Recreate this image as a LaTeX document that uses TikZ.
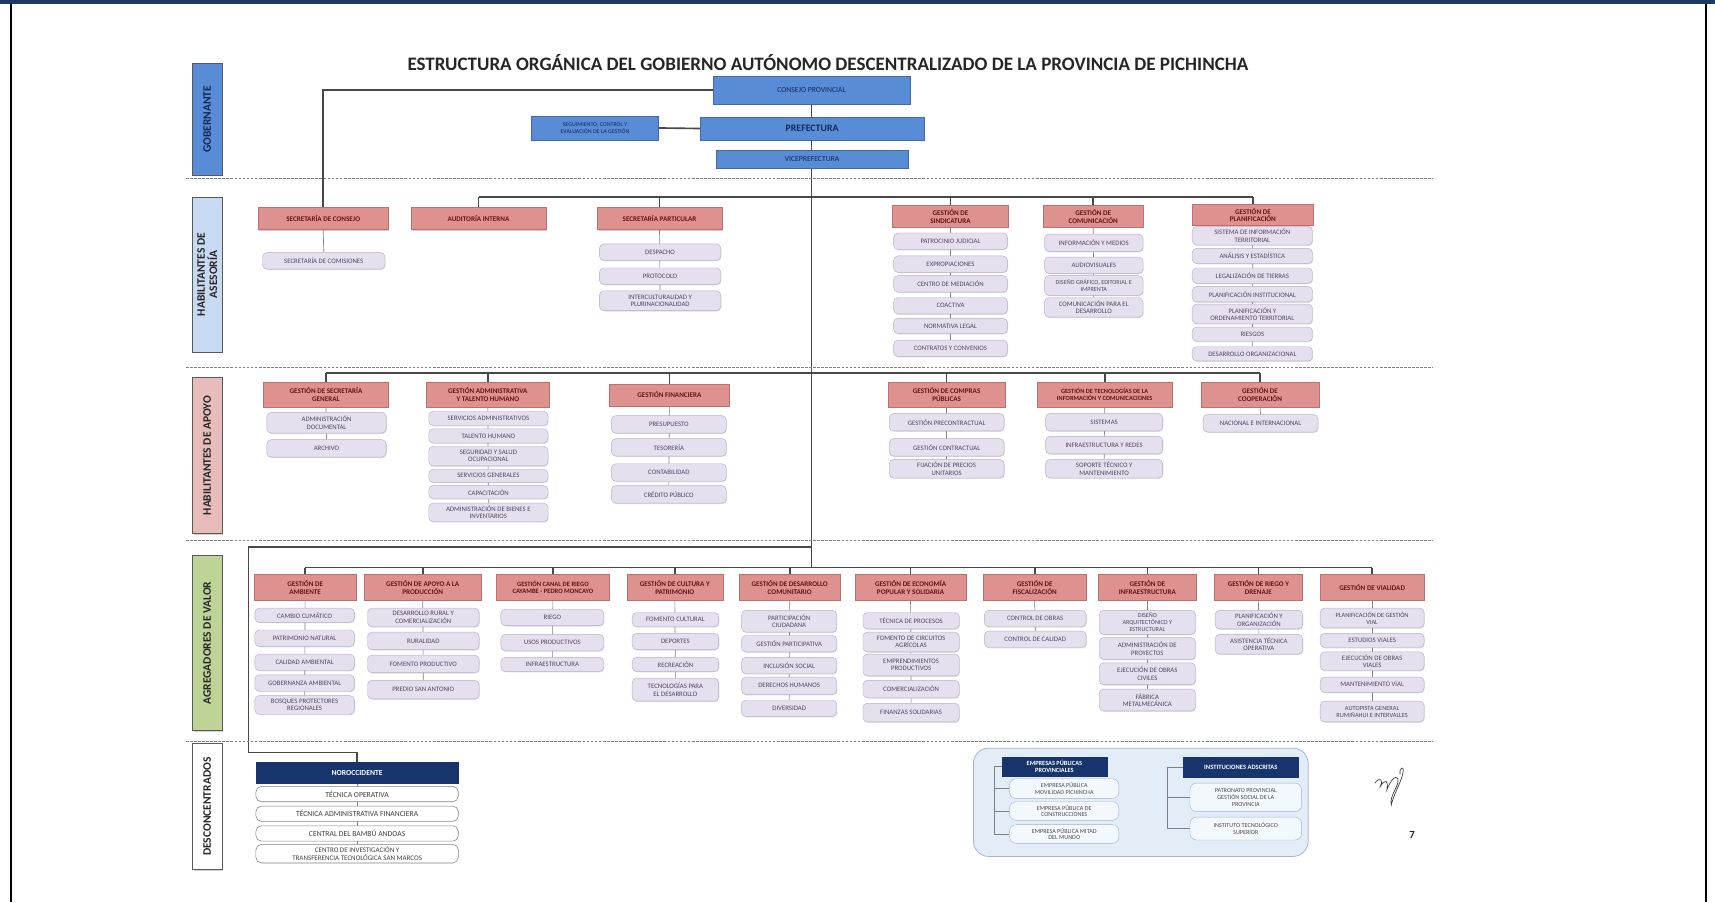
\documentclass[tikz,border=0pt]{standalone}
\usepackage{fontspec}
\setmainfont{Carlito}
\usetikzlibrary{backgrounds,shadows}
\definecolor{hdrcol}{RGB}{221,146,143}
\definecolor{hdrbrd}{RGB}{190,110,108}
\definecolor{hdrtxt}{RGB}{100,20,20}
\definecolor{subcol}{RGB}{230,223,237}
\definecolor{subbrd}{RGB}{185,175,198}
\definecolor{subtxt}{RGB}{80,70,100}
\definecolor{blucol}{RGB}{88,140,214}
\definecolor{blutxt}{RGB}{20,40,90}
\definecolor{navycol}{RGB}{23,52,108}
\definecolor{frm}{RGB}{31,56,100}
\definecolor{asecol}{RGB}{200,218,242}
\definecolor{apocol}{RGB}{232,188,186}
\definecolor{agrcol}{RGB}{190,212,150}
\definecolor{linecol}{RGB}{72,72,72}
\definecolor{pale}{RGB}{226,237,247}
\definecolor{palebrd}{RGB}{160,180,200}
\newcommand\obox[7]{\node[#1, minimum width={(#5)-(#3)}, minimum height={(#6)-(#4)}] (#2) at ({((#3)+(#5))/2},{((#4)+(#6))/2}) {#7};}
\newcommand\fsz[2]{\fontsize{#1}{#2}\selectfont}
\tikzset{
  hdr/.style={rectangle, fill=hdrcol, draw=hdrbrd, line width=0.4pt, text=hdrtxt, align=center,
    font=\fsz{6.5}{7.1}\bfseries, inner sep=0pt,
    drop shadow={shadow xshift=0.7pt, shadow yshift=-0.9pt, opacity=0.35}},
  subbox/.style={rectangle, rounded corners=4pt, fill=subcol, draw=subbrd, line width=0.4pt, text=subtxt,
    align=center, font=\fsz{6.2}{6.7}, inner sep=0pt,
    drop shadow={shadow xshift=0.6pt, shadow yshift=-0.8pt, opacity=0.25}},
  wsub/.style={rectangle, rounded corners=5pt, fill=white, draw=gray, line width=0.5pt, text=black!75,
    align=center, font=\fsz{7}{7.3}, inner sep=0pt},
  psub/.style={rectangle, rounded corners=6pt, fill=white!60!pale, draw=palebrd, line width=0.4pt, text=black!70,
    align=center, font=\fsz{5.6}{6.2}, inner sep=0pt},
  blu/.style={rectangle, fill=blucol, draw=blucol!75!black, line width=0.4pt, text=blutxt, align=center,
    font=\fsz{7}{7.6}, inner sep=0pt,
    drop shadow={shadow xshift=0.7pt, shadow yshift=-0.9pt, opacity=0.3}},
  navy/.style={rectangle, fill=navycol, draw=navycol, text=white, align=center,
    font=\fsz{7}{7.6}\bfseries, inner sep=0pt},
  lab/.style={rectangle, rotate=90, draw=gray!70!black, line width=0.6pt, align=center, inner sep=0pt,
    font=\fsz{10.5}{11}\bfseries, text=black!85,
    drop shadow={shadow xshift=1pt, shadow yshift=-1pt, opacity=0.35}},
  main/.style={draw=linecol, line width=1.5pt},
  thin/.style={draw=gray, line width=0.6pt},
  sep/.style={draw=gray, line width=0.8pt, dash pattern=on 2.5pt off 1.2pt},
}
\begin{document}
\begin{tikzpicture}[x=1pt,y=-1pt]
\useasboundingbox (0,0) rectangle (1568,825);
\begin{pgfonlayer}{background}
\fill[white] (0,0) rectangle (1568,825);
\end{pgfonlayer}
% frame
\fill[frm] (0,0) rectangle (1568,3.5);
\draw[black, line width=2pt] (10,3.5) -- (10,825);
\draw[black, line width=2pt] (1560,3.5) -- (1560,825);

% title
\node[font=\fsz{17.4}{19}\bfseries, text=black!85] (title) at (757,57)
  {ESTRUCTURA ORGÁNICA DEL GOBIERNO AUTÓNOMO DESCENTRALIZADO DE LA PROVINCIA DE PICHINCHA};

% separators
\draw[sep] (170,163) -- (1310,163);
\draw[sep] (170,336) -- (1310,336);
\draw[sep] (170,494) -- (1310,494);
\draw[sep] (170,678) -- (1310,678);

% section labels
\node[lab, fill=blucol, minimum width=102, minimum height=27, text=blutxt] (lgob) at (189.5,109) {GOBERNANTE};
\node[lab, fill=asecol, minimum width=142, minimum height=27] (lase) at (189.5,251) {HABILITANTES DE\\ASESORÍA};
\node[lab, fill=apocol, minimum width=143, minimum height=27] (lapo) at (189.5,416.5) {HABILITANTES DE APOYO};
\node[lab, fill=agrcol, minimum width=160, minimum height=27] (lagr) at (189.5,588) {AGREGADORES DE VALOR};
\node[lab, fill=white, minimum width=115, minimum height=27] (ldes) at (189.5,737.5) {DESCONCENTRADOS};

% ===== GOBERNANTE
\obox{blu}{cons}{652}{70}{832}{95}{CONSEJO PROVINCIAL}
\obox{blu, font=\fsz{9}{10}\bfseries}{pref}{640}{107}{845}{128}{PREFECTURA}
\obox{blu, font=\fsz{5.4}{6}}{segc}{486}{106}{602}{128}{SEGUIMIENTO, CONTROL Y\\EVALUACIÓN DE LA GESTIÓN}
\obox{blu}{vice}{655}{137}{830}{154}{VICEPREFECTURA}

% ===== ASESORIA
\obox{hdr}{sc}{236}{189}{355}{210}{SECRETARÍA DE CONSEJO}
\obox{subbox}{sc1}{240}{231}{352}{246}{SECRETARÍA DE COMISIONES}
\obox{hdr}{ai}{376}{189}{499}{210}{AUDITORÍA INTERNA}
\obox{hdr}{sp}{546}{189}{660}{210}{SECRETARÍA PARTICULAR}
\obox{subbox}{sp1}{548}{223}{659}{238}{DESPACHO}
\obox{subbox}{sp2}{548}{245}{659}{260}{PROTOCOLO}
\obox{subbox}{sp3}{548}{266}{659}{284}{INTERCULTURALIDAD Y\\PLURINACIONALIDAD}
\obox{hdr}{gs}{816}{188}{922}{208}{GESTIÓN DE\\SINDICATURA}
\obox{subbox}{gs1}{817}{213}{921}{228}{PATROCINIO JUDICIAL}
\obox{subbox}{gs2}{817}{234}{921}{249}{EXPROPIACIONES}
\obox{subbox}{gs3}{817}{252}{921}{267}{CENTRO DE MEDIACIÓN}
\obox{subbox}{gs4}{817}{272}{921}{287}{COACTIVA}
\obox{subbox}{gs5}{817}{291}{921}{305}{NORMATIVA LEGAL}
\obox{subbox}{gs6}{817}{311}{921}{326}{CONTRATOS Y CONVENIOS}
\obox{hdr}{gc}{954}{188}{1045}{208}{GESTIÓN DE\\COMUNICACIÓN}
\obox{subbox}{gc1}{955}{214}{1045}{230}{INFORMACIÓN Y MEDIOS}
\obox{subbox}{gc2}{955}{235}{1045}{250}{AUDIOVISUALES}
\obox{subbox, font=\fsz{5.6}{6.2}}{gc3}{955}{252}{1045}{270}{DISEÑO GRÁFICO, EDITORIAL E\\IMPRENTA}
\obox{subbox}{gc4}{955}{272}{1045}{290}{COMUNICACIÓN PARA EL\\DESARROLLO}
\obox{hdr}{gp}{1090}{187}{1201}{206}{GESTIÓN DE\\PLANIFICACIÓN}
\obox{subbox}{gp1}{1090}{207}{1200}{224}{SISTEMA DE INFORMACIÓN\\TERRITORIAL}
\obox{subbox}{gp2}{1090}{227}{1200}{241}{ANÁLISIS Y ESTADÍSTICA}
\obox{subbox}{gp3}{1090}{245}{1200}{259}{LEGALIZACIÓN DE TIERRAS}
\obox{subbox}{gp4}{1090}{262}{1200}{276}{PLANIFICACIÓN INSTITUCIONAL}
\obox{subbox}{gp5}{1090}{278}{1200}{296}{PLANIFICACIÓN Y\\ORDENAMIENTO TERRITORIAL}
\obox{subbox}{gp6}{1090}{299}{1200}{312}{RIESGOS}
\obox{subbox}{gp7}{1090}{317}{1200}{330}{DESARROLLO ORGANIZACIONAL}

% ===== APOYO
\obox{hdr}{ag}{241}{349}{355}{372}{GESTIÓN DE SECRETARÍA\\GENERAL}
\obox{subbox}{ag1}{244}{377}{353}{396}{ADMINISTRACIÓN\\DOCUMENTAL}
\obox{subbox}{ag2}{244}{402}{353}{418}{ARCHIVO}
\obox{hdr}{at}{390}{349}{502}{372}{GESTIÓN ADMINISTRATIVA\\Y TALENTO HUMANO}
\obox{subbox}{at1}{392}{376}{501}{389}{SERVICIOS ADMINISTRATIVOS}
\obox{subbox}{at2}{392}{392}{501}{405}{TALENTO HUMANO}
\obox{subbox}{at3}{392}{408}{501}{426}{SEGURIDAD Y SALUD\\OCUPACIONAL}
\obox{subbox}{at4}{392}{429}{501}{441}{SERVICIOS GENERALES}
\obox{subbox}{at5}{392}{444}{501}{456}{CAPACITACIÓN}
\obox{subbox}{at6}{392}{460}{501}{477}{ADMINISTRACIÓN DE BIENES E\\INVENTARIOS}
\obox{hdr}{af}{557}{351}{667}{371}{GESTIÓN FINANCIERA}
\obox{subbox}{af1}{559}{380}{664}{396}{PRESUPUESTO}
\obox{subbox}{af2}{559}{401}{664}{417}{TESORERÍA}
\obox{subbox}{af3}{559}{424}{664}{440}{CONTABILIDAD}
\obox{subbox}{af4}{559}{444}{664}{460}{CRÉDITO PÚBLICO}
\obox{hdr}{acp}{812}{349}{919}{372}{GESTIÓN DE COMPRAS\\PÚBLICAS}
\obox{subbox}{acp1}{813}{378}{918}{394}{GESTIÓN PRECONTRACTUAL}
\obox{subbox}{acp2}{813}{401}{918}{417}{GESTIÓN CONTRACTUAL}
\obox{subbox}{acp3}{813}{420}{918}{437}{FIJACIÓN DE PRECIOS\\UNITARIOS}
\obox{hdr, font=\fsz{5.8}{6.5}\bfseries}{ati}{948}{349}{1072}{372}{GESTIÓN DE TECNOLOGÍAS DE LA\\INFORMACIÓN Y COMUNICACIONES}
\obox{subbox}{ati1}{956}{378}{1063}{394}{SISTEMAS}
\obox{subbox}{ati2}{956}{399}{1063}{415}{INFRAESTRUCTURA Y REDES}
\obox{subbox}{ati3}{956}{420}{1063}{437}{SOPORTE TÉCNICO Y\\MANTENIMIENTO}
\obox{hdr}{aco}{1098}{349}{1206}{372}{GESTIÓN DE\\COOPERACIÓN}
\obox{subbox}{aco1}{1100}{379}{1205}{395}{NACIONAL E INTERNACIONAL}

% ===== AGREGADORES
\obox{hdr}{v1}{232}{525}{326}{549}{GESTIÓN DE\\AMBIENTE}
\obox{subbox}{v1a}{233}{556}{324}{569}{CAMBIO CLIMÁTICO}
\obox{subbox}{v1b}{233}{576}{324}{591}{PATRIMONIO NATURAL}
\obox{subbox}{v1c}{233}{598}{324}{613}{CALIDAD AMBIENTAL}
\obox{subbox}{v1d}{233}{617}{324}{632}{GOBERNANZA AMBIENTAL}
\obox{subbox}{v1e}{233}{636}{324}{653}{BOSQUES PROTECTORES\\REGIONALES}
\obox{hdr}{v2}{333}{525}{440}{549}{GESTIÓN DE APOYO A LA\\PRODUCCIÓN}
\obox{subbox}{v2a}{336}{556}{438}{573}{DESARROLLO RURAL Y\\COMERCIALIZACIÓN}
\obox{subbox}{v2b}{336}{578}{438}{594}{RURALIDAD}
\obox{subbox}{v2c}{336}{599}{438}{615}{FOMENTO PRODUCTIVO}
\obox{subbox}{v2d}{336}{622}{438}{639}{PREDIO SAN ANTONIO}
\obox{hdr, font=\fsz{6}{6.8}\bfseries}{v3}{454}{525}{557}{549}{GESTIÓN CANAL DE RIEGO\\CAYAMBE - PEDRO MONCAYO}
\obox{subbox}{v3a}{458}{557}{552}{572}{RIEGO}
\obox{subbox}{v3b}{458}{580}{552}{595}{USOS PRODUCTIVOS}
\obox{subbox}{v3c}{458}{601}{552}{614}{INFRAESTRUCTURA}
\obox{hdr}{v4}{573}{525}{661}{549}{GESTIÓN DE CULTURA Y\\PATRIMONIO}
\obox{subbox}{v4a}{578}{560}{657}{573}{FOMENTO CULTURAL}
\obox{subbox}{v4b}{578}{579}{657}{594}{DEPORTES}
\obox{subbox}{v4c}{578}{601}{657}{614}{RECREACIÓN}
\obox{subbox}{v4d}{578}{620}{657}{641}{TECNOLOGÍAS PARA\\EL DESARROLLO}
\obox{hdr}{v5}{676}{525}{768}{549}{GESTIÓN DE DESARROLLO\\COMUNITARIO}
\obox{subbox}{v5a}{678}{558}{765}{578}{PARTICIPACIÓN\\CIUDADANA}
\obox{subbox}{v5b}{678}{581}{765}{596}{GESTIÓN PARTICIPATIVA}
\obox{subbox}{v5c}{678}{601}{765}{616}{INCLUSIÓN SOCIAL}
\obox{subbox}{v5d}{678}{619}{765}{635}{DERECHOS HUMANOS}
\obox{subbox}{v5e}{678}{640}{765}{655}{DIVERSIDAD}
\obox{hdr}{v6}{782}{525}{883}{549}{GESTIÓN DE ECONOMÍA\\POPULAR Y SOLIDARIA}
\obox{subbox}{v6a}{789}{560}{877}{575}{TÉCNICA DE PROCESOS}
\obox{subbox}{v6b}{789}{578}{877}{596}{FOMENTO DE CIRCUITOS\\AGRÍCOLAS}
\obox{subbox}{v6c}{789}{598}{877}{618}{EMPRENDIMIENTOS\\PRODUCTIVOS}
\obox{subbox}{v6d}{789}{622}{877}{638}{COMERCIALIZACIÓN}
\obox{subbox}{v6e}{789}{643}{877}{660}{FINANZAS SOLIDARIAS}
\obox{hdr}{v7}{899}{525}{993}{549}{GESTIÓN DE\\FISCALIZACIÓN}
\obox{subbox}{v7a}{900}{558}{993}{573}{CONTROL DE OBRAS}
\obox{subbox}{v7b}{900}{577}{993}{592}{CONTROL DE CALIDAD}
\obox{hdr}{v8}{1004}{525}{1094}{549}{GESTIÓN DE\\INFRAESTRUCTURA}
\obox{subbox, font=\fsz{5.6}{6.2}}{v8a}{1005}{558}{1093}{580}{DISEÑO\\ARQUITECTÓNICO Y\\ESTRUCTURAL}
\obox{subbox}{v8b}{1005}{583}{1093}{603}{ADMINISTRACIÓN DE\\PROYECTOS}
\obox{subbox}{v8c}{1005}{606}{1093}{626}{EJECUCIÓN DE OBRAS\\CIVILES}
\obox{subbox}{v8d}{1005}{630}{1093}{650}{FÁBRICA\\METALMECÁNICA}
\obox{hdr}{v9}{1110}{525}{1191}{549}{GESTIÓN DE RIEGO Y\\DRENAJE}
\obox{subbox}{v9a}{1111}{558}{1191}{575}{PLANIFICACIÓN Y\\ORGANIZACIÓN}
\obox{subbox}{v9b}{1111}{580}{1191}{598}{ASISTENCIA TÉCNICA\\OPERATIVA}
\obox{hdr}{v10}{1207}{525}{1302}{549}{GESTIÓN DE VIALIDAD}
\obox{subbox, font=\fsz{5.8}{6.4}}{v10a}{1207}{556}{1302}{574}{PLANIFICACIÓN DE GESTIÓN\\VIAL}
\obox{subbox}{v10b}{1207}{579}{1302}{592}{ESTUDIOS VIALES}
\obox{subbox}{v10c}{1207}{596}{1302}{613}{EJECUCIÓN DE OBRAS\\VIALES}
\obox{subbox}{v10d}{1207}{619}{1302}{633}{MANTENIMIENTO VIAL}
\obox{subbox, font=\fsz{5.8}{6.4}}{v10e}{1207}{641}{1302}{660}{AUTOPISTA GENERAL\\RUMIÑAHUI E INTERVALLES}

% ===== DESCONCENTRADOS
\obox{navy}{no}{234}{697}{419}{716}{NOROCCIDENTE}
\obox{wsub}{no1}{234}{719}{419}{733}{TÉCNICA OPERATIVA}
\obox{wsub}{no2}{234}{737}{419}{751}{TÉCNICA ADMINISTRATIVA FINANCIERA}
\obox{wsub}{no3}{234}{755}{419}{769}{CENTRAL DEL BAMBÚ ANDOAS}
\obox{wsub, font=\fsz{6.4}{6.8}}{no4}{234}{772}{419}{789}{CENTRO DE INVESTIGACIÓN Y\\TRANSFERENCIA TECNOLÓGICA SAN MARCOS}

\node[rectangle, rounded corners=14pt, fill=pale, draw=palebrd, line width=0.7pt,
  minimum width=306, minimum height=99] (ent) at (1043,733.5) {};
\obox{navy, font=\fsz{5.8}{6.4}\bfseries}{ep}{916}{692}{1012}{710}{EMPRESAS PÚBLICAS\\PROVINCIALES}
\obox{psub}{ep1}{923}{712}{1023}{730}{EMPRESA PÚBLICA\\MOVILIDAD PICHINCHA}
\obox{psub}{ep2}{923}{733}{1023}{750}{EMPRESA PÚBLICA DE\\CONSTRUCCIONES}
\obox{psub}{ep3}{923}{754}{1023}{771}{EMPRESA PÚBLICA MITAD\\DEL MUNDO}
\obox{navy, font=\fsz{6}{6.6}\bfseries}{ia}{1082}{692}{1187}{711}{INSTITUCIONES ADSCRITAS}
\obox{psub}{ia1}{1088}{716}{1190}{742}{PATRONATO PROVINCIAL\\GESTIÓN SOCIAL DE LA\\PROVINCIA}
\obox{psub}{ia2}{1088}{747}{1190}{768}{INSTITUTO TECNOLÓGICO\\SUPERIOR}

% signature and page number
\draw[black!80, line width=0.6pt, line cap=round]
  (1257,716) .. controls (1262,709) and (1265,714) .. (1262,719)
  .. controls (1266,712) and (1270,713) .. (1268,722)
  .. controls (1271,714) and (1276,708) .. (1278,712)
  .. controls (1280,718) and (1270,727) .. (1272,736)
  .. controls (1274,726) and (1283,712) .. (1283,704)
  .. controls (1283,700) and (1279,703) .. (1280,708);
\node[font=\fsz{10}{11}\bfseries, text=black!85] (pg) at (1291,763) {7};

% ===== CONNECTORS (behind boxes)
\coordinate (abar) at (0,180);
\coordinate (pbar) at (0,341);
\coordinate (vbar) at (0,519);
\coordinate (dj) at (742,500);
\coordinate (dl) at (227,500);
\coordinate (dd) at (227,688);
\begin{pgfonlayer}{background}
% gobernante
\draw[main] (cons.south) -- (cons.south |- vbar);
\draw[main] (segc.east) -- (pref.west);
\draw[main] (cons.west) -| (sc.north);
% asesoria
\draw[main] (ai.north |- abar) -- (gp.north |- abar);
\foreach \n in {ai,sp,gs,gc,gp} \draw[main] (\n.north |- abar) -- (\n.north);
\draw[thin] (sc.south) -- (sc1.north);
\draw[thin] (sp.south) -- (sp3.north);
\draw[thin] (gs.south) -- (gs6.north);
\draw[thin] (gc.south) -- (gc4.north);
\draw[thin] (gp.south) -- (gp7.north);
% apoyo
\draw[main] (ag.north |- pbar) -- (aco.north |- pbar);
\foreach \n in {ag,at,af,acp,ati,aco} \draw[main] (\n.north |- pbar) -- (\n.north);
\draw[thin] (ag.south) -- (ag2.north);
\draw[thin] (at.south) -- (at6.north);
\draw[thin] (af.south) -- (af4.north);
\draw[thin] (acp.south) -- (acp3.north);
\draw[thin] (ati.south) -- (ati3.north);
\draw[thin] (aco.south) -- (aco1.north);
% agregadores
\draw[main] (v1.north |- vbar) -- (v10.north |- vbar);
\foreach \n in {v1,v2,v3,v4,v5,v6,v7,v8,v9,v10} \draw[main] (\n.north |- vbar) -- (\n.north);
\draw[thin] (v1.south) -- (v1e.north);
\draw[thin] (v2.south) -- (v2d.north);
\draw[thin] (v3.south) -- (v3c.north);
\draw[thin] (v4.south) -- (v4d.north);
\draw[thin] (v5.south) -- (v5e.north);
\draw[thin] (v6.south) -- (v6e.north);
\draw[thin] (v7.south) -- (v7b.north);
\draw[thin] (v8.south) -- (v8d.north);
\draw[thin] (v9.south) -- (v9b.north);
\draw[thin] (v10.south) -- (v10e.north);
% desconcentrados
\draw[main, line width=1.2pt] (dj) -- (dl) -- (dd) -| (no.north);
\draw[thin] (no.south) -- (no4.north);
\end{pgfonlayer}
\draw[thin] (ep.west) -- ++(-7,0) |- (ep3.west);
\draw[thin] (ep.west) ++(-7,0) |- (ep1.west);
\draw[thin] (ep.west) ++(-7,0) |- (ep2.west);
\draw[thin] (ia.west) -- ++(-15,0) |- (ia2.west);
\draw[thin] (ia.west) ++(-15,0) |- (ia1.west);
\end{tikzpicture}
\end{document}
